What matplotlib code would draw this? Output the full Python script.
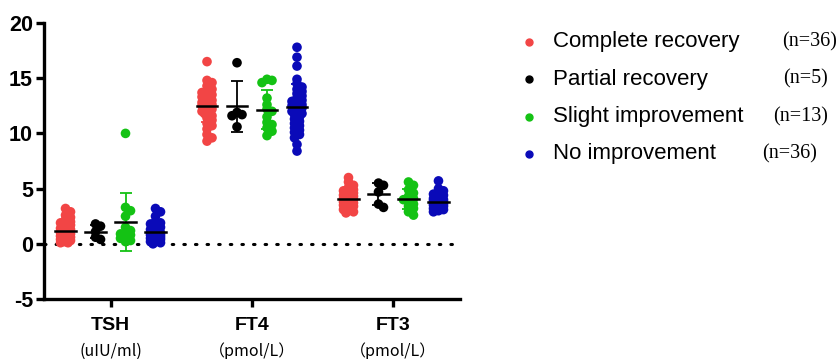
import numpy as np
import matplotlib.pyplot as plt
from matplotlib.lines import Line2D

# categories and groups
categories = ['TSH', 'FT4', 'FT3']
units = ['(uIU/ml)', '（pmol/L）', '（pmol/L）']
groups = ['Complete recovery', 'Partial recovery', 'Slight improvement', 'No improvement']
group_n = ['(n=36)', '(n=5)', '(n=13)', '(n=36)']
colors = ['#F24545', '#000000', '#14C214', '#0A0AB8']

# values
tsh_complete = [3.2, 2.9, 2.6, 2.4, 2.2, 2.0, 1.9, 1.8, 1.7, 1.6, 1.5, 1.4, 1.4, 1.3, 1.2, 1.1, 1.0, 1.0,
                0.9, 0.9, 0.8, 0.8, 0.7, 0.7, 0.6, 0.6, 0.5, 0.5, 0.4, 0.4, 0.3, 0.3, 0.2, 0.2, 0.1, 0.1]
tsh_partial = [1.8, 1.6, 1.1, 0.6, 0.4]
tsh_slight = [10.0, 3.3, 3.0, 2.5, 1.5, 1.2, 1.0, 0.9, 0.8, 0.6, 0.5, 0.3, 0.2]
tsh_none = [3.2, 2.9, 2.5, 2.0, 1.9, 1.8, 1.7, 1.6, 1.5, 1.4, 1.3, 1.2, 1.2, 1.1, 1.0, 1.0, 0.9, 0.9,
            0.8, 0.8, 0.8, 0.7, 0.7, 0.6, 0.6, 0.5, 0.5, 0.5, 0.4, 0.4, 0.3, 0.3, 0.2, 0.2, 0.1, 0.0]

ft4_complete = [16.5, 14.8, 14.6, 14.3, 14.0, 13.8, 13.7, 13.5, 13.4, 13.3, 13.2, 13.1, 13.0, 12.9, 12.8,
                12.8, 12.7, 12.6, 12.5, 12.5, 12.4, 12.3, 12.2, 12.1, 12.0, 11.9, 11.8, 11.6, 11.4, 11.2,
                10.9, 10.7, 10.4, 9.9, 9.6, 9.3]
ft4_partial = [16.4, 11.9, 11.7, 11.6, 10.6]
ft4_slight = [14.9, 14.8, 14.6, 13.2, 12.6, 12.2, 12.0, 11.5, 11.0, 10.8, 10.5, 10.2, 9.8]
ft4_none = [17.8, 16.9, 16.1, 14.9, 14.5, 14.2, 14.0, 13.8, 13.6, 13.4, 13.2, 13.0, 12.9, 12.8, 12.6,
            12.5, 12.4, 12.3, 12.2, 12.1, 12.0, 11.9, 11.8, 11.7, 11.5, 11.3, 11.1, 10.9, 10.7, 10.5,
            10.3, 10.1, 9.9, 9.6, 9.0, 8.4]

ft3_complete = [6.0, 5.6, 5.3, 5.1, 4.9, 4.8, 4.7, 4.6, 4.5, 4.4, 4.4, 4.3, 4.3, 4.2, 4.2, 4.1, 4.1, 4.0,
                4.0, 3.9, 3.9, 3.8, 3.8, 3.7, 3.7, 3.6, 3.6, 3.5, 3.5, 3.4, 3.3, 3.2, 3.1, 3.0, 2.9, 2.8]
ft3_partial = [5.5, 5.3, 4.7, 3.6, 3.3]
ft3_slight = [5.6, 5.3, 4.9, 4.6, 4.3, 4.1, 4.0, 3.8, 3.6, 3.4, 3.2, 2.9, 2.6]
ft3_none = [5.7, 5.0, 4.8, 4.6, 4.5, 4.4, 4.3, 4.2, 4.1, 4.1, 4.0, 4.0, 3.9, 3.9, 3.9, 3.8, 3.8, 3.8,
            3.7, 3.7, 3.7, 3.6, 3.6, 3.6, 3.5, 3.5, 3.5, 3.4, 3.4, 3.3, 3.3, 3.2, 3.2, 3.1, 3.0, 2.9]

data = [
    [tsh_complete, tsh_partial, tsh_slight, tsh_none],
    [ft4_complete, ft4_partial, ft4_slight, ft4_none],
    [ft3_complete, ft3_partial, ft3_slight, ft3_none],
]

plt.rcParams['font.family'] = ['Liberation Sans', 'DejaVu Sans']
plt.rcParams['axes.unicode_minus'] = False

fig = plt.figure(figsize=(8.4, 3.59), dpi=100)
ax = fig.add_axes([0.0524, 0.167, 0.4952, 0.769])
ax.set_xlim(-0.47, 2.47)
ax.set_ylim(-5, 20)

offsets = [-0.318, -0.106, 0.106, 0.318]
diam = 8.5  # marker diameter in pixels


def swarm(x0, vals):
    # compact beeswarm in pixel space, points may overlap
    pts = ax.transData.transform(np.column_stack([np.full(len(vals), x0), vals]))
    placed = []
    xs = np.zeros(len(vals))
    order = np.argsort(vals)[::-1]
    steps = [0, 2.5, -2.5, 5.0, -5.0]
    for i in order:
        px, py = pts[i]
        best, best_d = 0, -1
        for s in steps:
            d = min([np.hypot(px + s - qx, py - qy) for qx, qy in placed] + [99])
            if d >= 0.5 * diam:
                best = s
                break
            if d > best_d:
                best, best_d = s, d
        placed.append((px + best, py))
        xs[i] = px + best
    back = ax.transData.inverted().transform(np.column_stack([xs, pts[:, 1]]))
    return back[:, 0]


ax.axhline(0, color='black', lw=2.2, ls=(0, (0.5, 3.3)), dash_capstyle='round', zorder=1)

for ci, cat in enumerate(data):
    for gi, vals in enumerate(cat):
        x0 = ci + offsets[gi]
        v = np.array(vals)
        xs = swarm(x0, v)
        ax.scatter(xs, v, s=48, color=colors[gi], edgecolors='none', zorder=2)
        m = v.mean()
        sd = v.std(ddof=1)
        ax.errorbar(x0, m, yerr=sd, color=colors[gi], capsize=4, elinewidth=1.3,
                    capthick=1.3, fmt='none', zorder=3)
        ax.plot([x0 - 0.072, x0 + 0.072], [m, m], color='black', lw=1.8, zorder=4)

for side in ['top', 'right']:
    ax.spines[side].set_visible(False)
for side in ['left', 'bottom']:
    ax.spines[side].set_linewidth(2.4)

ax.set_yticks([-5, 0, 5, 10, 15, 20])
ax.set_xticks(range(len(categories)))
ax.set_xticklabels(categories, fontsize=14, fontweight='bold')
ax.tick_params(axis='both', width=2.4, length=6)
ax.tick_params(axis='y', labelsize=15.5, pad=2)
ax.tick_params(axis='x', pad=7)
for lbl in ax.get_yticklabels():
    lbl.set_fontweight('bold')

for ci, u in enumerate(units):
    ax.text(ci, -0.19, u, transform=ax.get_xaxis_transform(), ha='center', va='center',
            fontsize=11.5, family=['Noto Sans CJK JP', 'DejaVu Sans'])

# legend
leg_y = [41.5, 79, 116.5, 153.5]
n_x = [782, 783, 773, 762]
W, H = 840, 359
for gi in range(len(groups)):
    fy = 1 - leg_y[gi] / H
    fig.add_artist(Line2D([529 / W], [fy], marker='o', markersize=5, color=colors[gi],
                          ls='none', transform=fig.transFigure))
    fig.text(553 / W, fy, groups[gi], fontsize=16, va='center', ha='left')
    fig.text(n_x[gi] / W, fy, group_n[gi], fontsize=14.5, va='center', ha='left',
             family='Liberation Serif')

fig.savefig('out.png', dpi=100)
